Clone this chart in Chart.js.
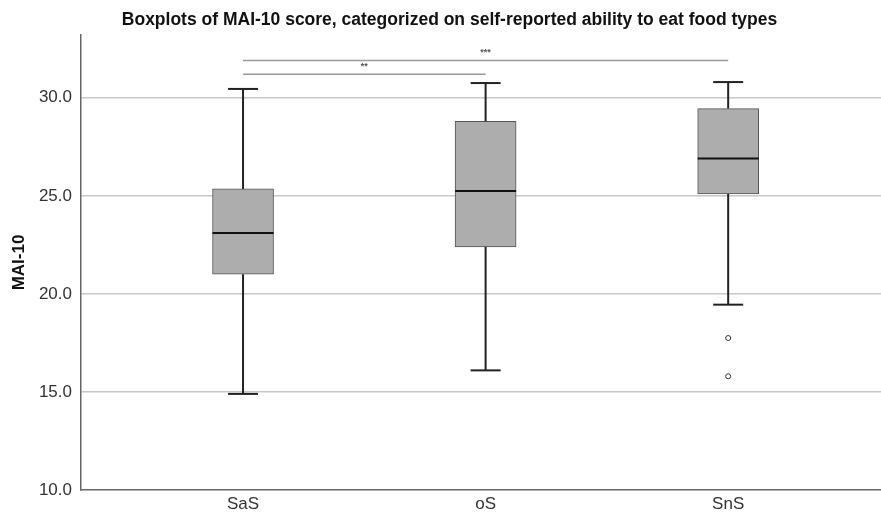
<!DOCTYPE html>
<html>
<head>
<meta charset="utf-8">
<script src="https://cdn.jsdelivr.net/npm/chart.js@4/dist/chart.umd.min.js"></script>
<style>
  html, body { margin: 0; padding: 0; background: #fff; overflow: hidden; }
  #wrap { width: 881px; height: 513px; }
</style>
</head>
<body>
<div id="wrap"><canvas id="boxChart"></canvas></div>
<script>
  // data
  const categories = ['SaS', 'oS', 'SnS'];
  const q1 = [21.0, 22.4, 25.1];
  const medians = [23.1, 25.25, 26.9];
  const q3 = [25.35, 28.8, 29.45];
  const whiskerLow = [14.9, 16.1, 19.45];
  const whiskerHigh = [30.45, 30.75, 30.8];
  const outliers = [[], [], [17.75, 15.8]];
  const yTicks = [10, 15, 20, 25, 30];
  // significance brackets: from group, to group, height, label
  const bracketFrom = [0, 0];
  const bracketTo = [1, 2];
  const bracketY = [31.2, 31.9];
  const bracketLabels = ['**', '***'];

  Chart.defaults.font.family = "'Liberation Sans', Arial, sans-serif";

  // whiskers, medians and brackets drawn on top of the boxes
  const boxExtras = {
    id: 'boxExtras',
    afterDatasetsDraw(chart) {
      const { ctx } = chart;
      const x = chart.scales.x;
      const y = chart.scales.y;
      const meta = chart.getDatasetMeta(0);
      const line = (x1, y1, x2, y2) => {
        ctx.beginPath();
        ctx.moveTo(x1, y1);
        ctx.lineTo(x2, y2);
        ctx.stroke();
      };
      ctx.save();
      categories.forEach((c, i) => {
        const cx = x.getPixelForValue(i + 1);
        const half = meta.data[i].width / 2;
        ctx.strokeStyle = '#222';
        ctx.lineWidth = 2;
        line(cx, y.getPixelForValue(q3[i]), cx, y.getPixelForValue(whiskerHigh[i]));
        line(cx, y.getPixelForValue(q1[i]), cx, y.getPixelForValue(whiskerLow[i]));
        line(cx - 15, y.getPixelForValue(whiskerHigh[i]), cx + 15, y.getPixelForValue(whiskerHigh[i]));
        line(cx - 15, y.getPixelForValue(whiskerLow[i]), cx + 15, y.getPixelForValue(whiskerLow[i]));
        ctx.strokeStyle = '#111';
        line(cx - half, y.getPixelForValue(medians[i]), cx + half, y.getPixelForValue(medians[i]));
      });
      ctx.strokeStyle = '#9a9a9a';
      ctx.lineWidth = 1.5;
      ctx.fillStyle = '#555';
      ctx.font = "bold 9px 'Liberation Sans', Arial, sans-serif";
      ctx.textAlign = 'center';
      ctx.textBaseline = 'bottom';
      bracketLabels.forEach((lab, i) => {
        const x1 = x.getPixelForValue(bracketFrom[i] + 1);
        const x2 = x.getPixelForValue(bracketTo[i] + 1);
        const py = y.getPixelForValue(bracketY[i]);
        line(x1, py, x2, py);
        ctx.fillText(lab, (x1 + x2) / 2, py - 3);
      });
      ctx.restore();
    }
  };

  const outlierPoints = [];
  outliers.forEach((list, i) => list.forEach(v => outlierPoints.push({ x: i + 1, y: v })));

  const ctx = document.getElementById('boxChart').getContext('2d');
  new Chart(ctx, {
    type: 'bar',
    data: {
      datasets: [{
        label: 'IQR',
        data: categories.map((c, i) => ({ x: i + 1, y: [q1[i], q3[i]] })),
        backgroundColor: '#adadad',
        borderColor: '#555',
        borderWidth: 1,
        borderSkipped: false,
        barThickness: 61
      }, {
        type: 'scatter',
        label: 'Outliers',
        data: outlierPoints,
        pointStyle: 'circle',
        pointRadius: 2.5,
        backgroundColor: '#fff',
        borderColor: '#333',
        borderWidth: 1
      }]
    },
    options: {
      responsive: true,
      maintainAspectRatio: false,
      animation: false,
      layout: { autoPadding: false, padding: { left: 18, right: 0, top: 0, bottom: 0 } },
      plugins: {
        legend: { display: false },
        tooltip: { enabled: false },
        title: {
          display: true,
          text: 'Boxplots of MAI-10 score, categorized on self-reported ability to eat food types',
          color: '#111',
          font: { size: 17.5, weight: 'bold' },
          padding: { top: 10, bottom: 4 }
        }
      },
      scales: {
        x: {
          type: 'linear',
          offset: false,
          min: 0.332,
          max: 3.63,
          afterBuildTicks: scale => { scale.ticks = categories.map((c, i) => ({ value: i + 1 })); },
          afterFit: scale => { scale.height = 23; },
          ticks: {
            color: '#333',
            font: { size: 17 },
            padding: 4,
            callback: v => categories[v - 1]
          },
          grid: { display: false, drawTicks: false, tickLength: 0 },
          border: { display: true, color: '#666', width: 1.5 }
        },
        y: {
          min: 10,
          max: 33.2,
          afterBuildTicks: scale => { scale.ticks = yTicks.map(v => ({ value: v })); },
          afterFit: scale => { scale.width = 63; },
          ticks: {
            color: '#333',
            font: { size: 17 },
            padding: 9,
            callback: v => v.toFixed(1)
          },
          grid: {
            drawTicks: false,
            lineWidth: 1.5,
            color: c => (c.tick && c.tick.value === 10 ? 'rgba(0,0,0,0)' : '#c8c8c8')
          },
          border: { display: true, color: '#666', width: 1.5 },
          title: {
            display: true,
            text: 'MAI-10',
            color: '#111',
            font: { size: 17, weight: 'bold' },
            padding: { top: -9, bottom: 0 }
          }
        }
      }
    },
    plugins: [boxExtras]
  });
</script>
</body>
</html>
